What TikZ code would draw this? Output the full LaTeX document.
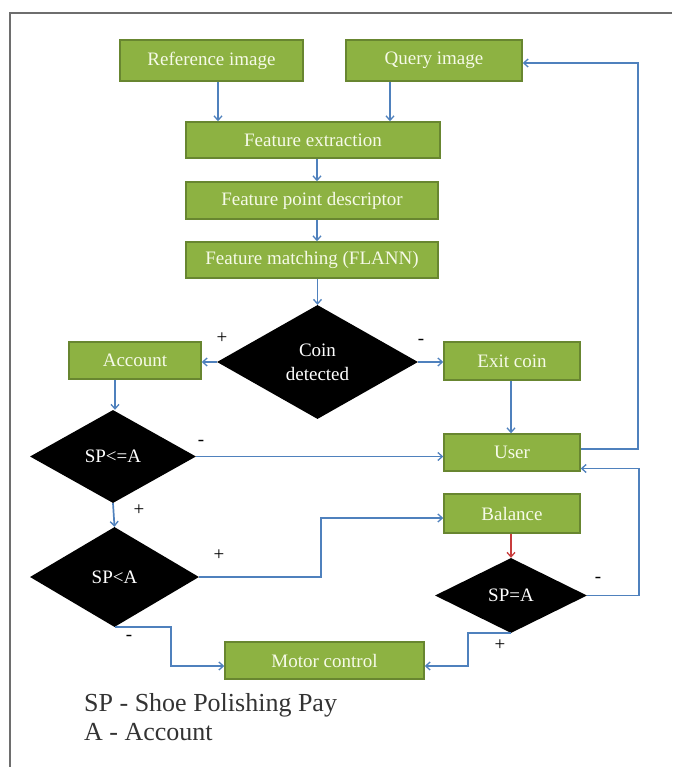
\documentclass[tikz,border=0pt]{standalone}
\usepackage{fontspec}
\setmainfont{Liberation Serif}
\usetikzlibrary{shapes.geometric,arrows.meta}
\definecolor{boxfill}{RGB}{141,178,66}
\definecolor{boxline}{RGB}{104,134,48}
\definecolor{arrblue}{RGB}{79,129,189}
\definecolor{arrred}{RGB}{200,60,60}
\definecolor{frame}{RGB}{110,110,110}
\definecolor{boxtext}{RGB}{246,250,232}
\begin{document}
\begin{tikzpicture}[x=1pt,y=-1pt,
  gbox/.style={draw=boxline,line width=1.4pt,fill=boxfill,text=boxtext,inner sep=0pt,
    font=\fontsize{19}{21}\selectfont},
  dec/.style={diamond,fill=black,text=white,inner sep=0pt,align=center,
    font=\fontsize{19}{24}\selectfont},
  arr/.style={draw=arrblue,line width=1.7pt,-{Straight Barb[length=4.5pt,width=8pt,line width=1.3pt]}},
  sgn/.style={text=black,inner sep=0pt,font=\fontsize{19}{20}\selectfont},
  legend/.style={anchor=west,inner sep=0pt,text=black!80,font=\fontsize{26}{30}\selectfont}]
\useasboundingbox (0,0) rectangle (672,767);
\fill[white] (0,0) rectangle (672,767);
% frame
\draw[frame,line width=2pt] (672,13) -- (10,13) -- (10,767);
% boxes
\node[gbox,minimum width=183pt,minimum height=41pt] (ref) at (211.5,60.5) {Reference image};
\node[gbox,minimum width=176pt,minimum height=41pt] (query) at (434,60.5) {Query image};
\node[gbox,minimum width=254pt,minimum height=36pt] (fe) at (313,140) {Feature extraction};
\node[gbox,minimum width=252pt,minimum height=37pt] (fpd) at (312,200.5) {Feature point descriptor};
\node[gbox,minimum width=252pt,minimum height=36pt] (fm) at (312,260) {Feature matching (FLANN)};
\node[gbox,minimum width=132pt,minimum height=37pt] (account) at (135,360.5) {Account};
\node[gbox,minimum width=136pt,minimum height=38pt] (exit) at (512,361) {Exit coin};
\node[gbox,minimum width=136pt,minimum height=37pt] (user) at (512,452.5) {User};
\node[gbox,minimum width=136pt,minimum height=39pt] (balance) at (512,513.5) {Balance};
\node[gbox,minimum width=199pt,minimum height=37pt] (motor) at (324.5,660.5) {Motor control};
% decisions
\node[dec,minimum width=201pt,minimum height=114pt] (coin) at (317.5,362) {Coin\\detected};
\node[dec,minimum width=166pt,minimum height=93pt] (sple) at (113,456.5) {SP<=A};
\node[dec,minimum width=169pt,minimum height=100pt] (splt) at (114.5,577) {SP<A};
\node[dec,minimum width=152pt,minimum height=75pt] (spe) at (511,595.5) {SP=A};
% connectors
\draw[arr] ([xshift=6.5pt]ref.south) -- ([xshift=6.5pt]ref.south |- fe.north);
\draw[arr] ([xshift=-44pt]query.south) -- ([xshift=-44pt]query.south |- fe.north);
\draw[arr] ([xshift=4pt]fe.south) -- ([xshift=4pt]fe.south |- fpd.north);
\draw[arr] ([xshift=5pt]fpd.south) -- ([xshift=5pt]fpd.south |- fm.north);
\draw[arr] (coin.north |- fm.south) -- (coin.north);
\draw[arr] (coin.west) -- (coin.west -| account.east);
\draw[arr] (coin.east) -- (coin.east -| exit.west);
\draw[arr] ([xshift=-20pt]account.south) -- ([xshift=-20pt]account.south |- sple.north);
\draw[arr] (sple.east) -- (sple.east -| user.west);
\draw[arr] ([xshift=-1pt]exit.south) -- ([xshift=-1pt]user.north);
\draw[arr] (sple.south) -- (splt.north);
\draw[arr] (splt.east) -- ++(122,0) |- ([yshift=-4.5pt]balance.west);
\draw[arr] (splt.south) -- ++(56.5,0) |- ([yshift=-5.5pt]motor.west);
\draw[arr] (spe.south) -- ++(-43,0) |- ([yshift=-5.5pt]motor.east);
\draw[arr,draw=arrred] ([xshift=-1pt]balance.south) -- (spe.north);
\draw[arr] (spe.east) -- ++(52,0) |- ([yshift=-16pt]user.east);
\draw[arr] ([yshift=3.5pt]user.east) -- ++(57,0) |- ([yshift=-2.5pt]query.east);
% signs
\node[sgn] (s1) at (222,338) {+};
\node[sgn] (s2) at (421,342) {-};
\node[sgn] (s3) at (201,443) {-};
\node[sgn] (s4) at (139,510) {+};
\node[sgn] (s5) at (219,555) {+};
\node[sgn] (s6) at (598,580) {-};
\node[sgn] (s7) at (129,638) {-};
\node[sgn] (s8) at (500,645) {+};
% legend
\node[legend] (leg1) at (84,705) {SP - Shoe Polishing Pay};
\node[legend] (leg2) at (84,732) {A - Account};
\end{tikzpicture}
\end{document}
